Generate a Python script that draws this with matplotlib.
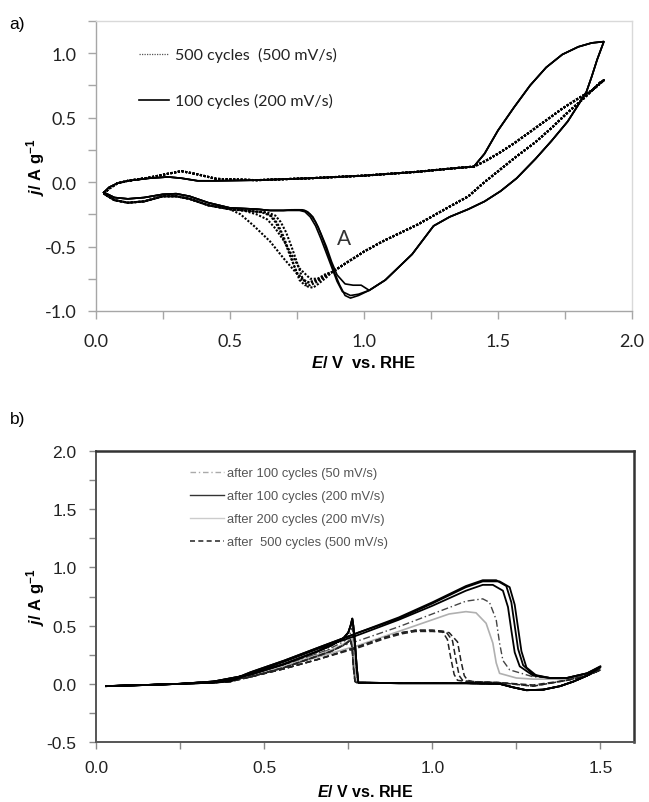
import numpy as np
import matplotlib
matplotlib.use("Agg")
import matplotlib.pyplot as plt
from matplotlib.ticker import MultipleLocator, FormatStrFormatter
from matplotlib.lines import Line2D

plt.rcParams['font.family'] = ['Liberation Sans', 'DejaVu Sans']
plt.rcParams['mathtext.fontset'] = 'custom'
plt.rcParams['mathtext.it'] = 'Liberation Sans:italic:bold'
plt.rcParams['mathtext.rm'] = 'Liberation Sans:bold'
plt.rcParams['mathtext.bf'] = 'Liberation Sans:bold'

# ---------------- panel a data (E / V vs RHE, j / A g-1) ----------------
# anodic sweep, low potential part (shared E grid)
a_fwd_E = [0.03, 0.05, 0.08, 0.12, 0.20, 0.27, 0.32, 0.38, 0.45, 0.60, 0.80, 1.00, 1.20, 1.35, 1.41]
a_fwd_j_solid = [-0.08, -0.04, -0.01, 0.01, 0.03, 0.04, 0.03, 0.01, 0.01, 0.015, 0.03, 0.05, 0.08, 0.11, 0.12]
a_fwd_j_dot = [-0.09, -0.05, -0.01, 0.01, 0.035, 0.065, 0.085, 0.06, 0.025, 0.015, 0.03, 0.05, 0.08, 0.11, 0.12]

# anodic sweep above the kink at 1.41 V
a_hi_E = [1.41, 1.45, 1.50, 1.56, 1.62, 1.68, 1.74, 1.80, 1.85, 1.895]
a_hi_j_solid = [0.12, 0.22, 0.40, 0.58, 0.75, 0.89, 0.99, 1.05, 1.08, 1.09]
a_hi_j_dot = [0.12, 0.16, 0.22, 0.30, 0.39, 0.48, 0.57, 0.65, 0.71, 0.79]

# cathodic sweep from the vertex down to the reduction peak
a_back_E_solid = [1.895, 1.87, 1.85, 1.83, 1.80, 1.76, 1.70, 1.64, 1.57, 1.51, 1.45,
                  1.39, 1.32, 1.26, 1.22, 1.18, 1.14, 1.08, 1.02]
a_back_j_solid = [1.09, 0.95, 0.82, 0.70, 0.60, 0.47, 0.32, 0.18, 0.03, -0.07, -0.15,
                  -0.21, -0.27, -0.34, -0.45, -0.56, -0.64, -0.76, -0.84]
a_back_E_dot = [1.895, 1.88, 1.82, 1.76, 1.70, 1.64, 1.57, 1.51, 1.45, 1.39, 1.32,
                1.26, 1.20, 1.14, 1.07, 1.00, 0.94, 0.88]
a_back_j_dot = [0.79, 0.77, 0.65, 0.54, 0.42, 0.31, 0.20, 0.10, 0.0, -0.11, -0.19,
                -0.26, -0.33, -0.39, -0.46, -0.54, -0.62, -0.70]

# reduction peak "A", one list per recorded cycle
a_peak_E_solid = [
    [0.98, 0.95, 0.93, 0.91, 0.89, 0.87, 0.85, 0.83, 0.81, 0.79, 0.77, 0.74, 0.70],
    [0.98, 0.95, 0.92, 0.90, 0.88, 0.86, 0.84, 0.82, 0.80, 0.78, 0.76, 0.73, 0.70],
    [0.99, 0.96, 0.93, 0.90, 0.88, 0.86, 0.84, 0.82, 0.80, 0.78, 0.76, 0.73, 0.70],
]
a_peak_j_solid = [
    [-0.88, -0.90, -0.88, -0.80, -0.70, -0.58, -0.46, -0.35, -0.27, -0.23, -0.215, -0.215, -0.22],
    [-0.87, -0.88, -0.85, -0.77, -0.66, -0.55, -0.44, -0.34, -0.27, -0.23, -0.22, -0.22, -0.22],
    [-0.80, -0.80, -0.79, -0.72, -0.62, -0.50, -0.40, -0.31, -0.25, -0.22, -0.215, -0.215, -0.22],
]
a_peak_E_dot = [
    [0.86, 0.83, 0.80, 0.78, 0.76, 0.74, 0.72, 0.70, 0.68, 0.66, 0.63, 0.58, 0.50],
    [0.86, 0.83, 0.81, 0.79, 0.77, 0.75, 0.73, 0.71, 0.69, 0.67, 0.64, 0.58, 0.50],
    [0.86, 0.83, 0.80, 0.77, 0.75, 0.73, 0.71, 0.69, 0.67, 0.65, 0.62, 0.58, 0.50],
    [0.86, 0.83, 0.80, 0.76, 0.73, 0.70, 0.67, 0.64, 0.60, 0.55, 0.50],
    [0.86, 0.82, 0.79, 0.75, 0.70, 0.65, 0.59, 0.54, 0.50],
]
a_peak_j_dot = [
    [-0.73, -0.77, -0.80, -0.80, -0.76, -0.65, -0.53, -0.42, -0.33, -0.27, -0.235, -0.225, -0.21],
    [-0.74, -0.79, -0.82, -0.81, -0.74, -0.62, -0.50, -0.39, -0.31, -0.26, -0.235, -0.225, -0.21],
    [-0.72, -0.76, -0.78, -0.76, -0.70, -0.60, -0.49, -0.39, -0.31, -0.26, -0.235, -0.225, -0.21],
    [-0.72, -0.75, -0.75, -0.67, -0.56, -0.45, -0.36, -0.29, -0.25, -0.22, -0.21],
    [-0.71, -0.76, -0.78, -0.71, -0.59, -0.46, -0.34, -0.25, -0.21],
]

# cathodic sweep, low potential part
a_low_E_solid = [0.70, 0.65, 0.60, 0.50, 0.42, 0.35, 0.30, 0.25, 0.18, 0.12, 0.07, 0.03]
a_low_j_solid = [-0.22, -0.22, -0.21, -0.20, -0.16, -0.11, -0.09, -0.095, -0.12, -0.13, -0.12, -0.08]
a_low_E_dot = [0.50, 0.42, 0.35, 0.30, 0.25, 0.18, 0.12, 0.07, 0.03]
a_low_j_dot = [-0.21, -0.18, -0.13, -0.11, -0.11, -0.15, -0.16, -0.14, -0.09]

# ---------------- panel b data ----------------
b_start_E = [0.03, 0.08, 0.15, 0.25, 0.35]
b_start_j = [-0.02, -0.015, -0.01, 0.0, 0.01]

b_fwd_E_solid = [
    [0.40, 0.46, 0.56, 0.66, 0.78, 0.90, 1.00, 1.10, 1.15, 1.19, 1.22, 1.235, 1.245, 1.255, 1.27, 1.30, 1.35, 1.40, 1.46, 1.50],
    [0.40, 0.46, 0.56, 0.66, 0.78, 0.90, 1.00, 1.10, 1.15, 1.20, 1.23, 1.245, 1.255, 1.265, 1.28, 1.31, 1.35, 1.40, 1.46, 1.50],
    [0.40, 0.46, 0.56, 0.66, 0.78, 0.90, 1.00, 1.10, 1.15, 1.18, 1.21, 1.225, 1.235, 1.245, 1.26, 1.30, 1.35, 1.40, 1.46, 1.50],
]
b_fwd_j_solid = [
    [0.03, 0.10, 0.20, 0.31, 0.44, 0.57, 0.70, 0.84, 0.89, 0.89, 0.84, 0.70, 0.50, 0.30, 0.16, 0.08, 0.05, 0.05, 0.09, 0.15],
    [0.03, 0.10, 0.20, 0.31, 0.44, 0.56, 0.69, 0.83, 0.88, 0.88, 0.83, 0.68, 0.48, 0.28, 0.14, 0.07, 0.05, 0.05, 0.09, 0.15],
    [0.02, 0.09, 0.19, 0.30, 0.42, 0.55, 0.67, 0.80, 0.85, 0.85, 0.80, 0.66, 0.46, 0.27, 0.15, 0.07, 0.05, 0.05, 0.09, 0.14],
]
b_fwd_E_dashdot = [0.40, 0.46, 0.56, 0.66, 0.78, 0.90, 1.00, 1.10, 1.15, 1.17, 1.19, 1.20, 1.21, 1.23, 1.30, 1.40, 1.46, 1.50]
b_fwd_j_dashdot = [0.02, 0.08, 0.17, 0.26, 0.37, 0.49, 0.60, 0.71, 0.73, 0.70, 0.55, 0.35, 0.20, 0.12, 0.06, 0.04, 0.08, 0.13]
b_fwd_E_gray = [0.40, 0.46, 0.56, 0.66, 0.78, 0.90, 1.00, 1.05, 1.10, 1.13, 1.16, 1.18, 1.19, 1.20, 1.25, 1.30, 1.40, 1.46, 1.50]
b_fwd_j_gray = [0.02, 0.07, 0.15, 0.23, 0.33, 0.45, 0.55, 0.60, 0.62, 0.61, 0.52, 0.35, 0.18, 0.09, 0.05, 0.04, 0.04, 0.08, 0.12]
b_fwd_E_dashed = [
    [0.40, 0.46, 0.56, 0.66, 0.78, 0.86, 0.91, 0.95, 1.00, 1.03, 1.045, 1.055, 1.065, 1.075, 1.10, 1.20, 1.30, 1.40, 1.46, 1.50],
    [0.40, 0.46, 0.56, 0.66, 0.78, 0.86, 0.91, 0.95, 1.00, 1.04, 1.06, 1.07, 1.08, 1.09, 1.11, 1.20, 1.30, 1.40, 1.46, 1.50],
    [0.40, 0.46, 0.56, 0.66, 0.78, 0.86, 0.91, 0.95, 1.00, 1.05, 1.075, 1.085, 1.095, 1.105, 1.12, 1.20, 1.30, 1.40, 1.46, 1.50],
]
b_fwd_j_dashed = [
    [0.02, 0.06, 0.13, 0.21, 0.32, 0.40, 0.44, 0.46, 0.46, 0.45, 0.38, 0.22, 0.08, 0.03, 0.02, 0.01, -0.01, 0.03, 0.07, 0.12],
    [0.02, 0.06, 0.13, 0.21, 0.32, 0.40, 0.44, 0.46, 0.46, 0.45, 0.37, 0.21, 0.07, 0.03, 0.02, 0.01, -0.02, 0.03, 0.07, 0.12],
    [0.02, 0.06, 0.13, 0.21, 0.31, 0.39, 0.43, 0.45, 0.45, 0.44, 0.36, 0.20, 0.07, 0.03, 0.02, 0.01, -0.02, 0.03, 0.07, 0.12],
]

b_rev_E = [1.50, 1.46, 1.42, 1.38, 1.33, 1.28, 1.24, 1.20, 1.10, 1.00, 0.90, 0.80]
b_rev_j = [0.15, 0.07, 0.02, -0.02, -0.05, -0.055, -0.03, 0.0, 0.005, 0.005, 0.005, 0.01]
b_spike_E = [0.78, 0.775, 0.77, 0.765, 0.762, 0.757, 0.75, 0.735, 0.70, 0.66, 0.56, 0.46, 0.35, 0.25, 0.15, 0.03]
b_spike_j_solid = [0.01, 0.15, 0.35, 0.50, 0.56, 0.50, 0.44, 0.39, 0.33, 0.28, 0.17, 0.08, 0.02, 0.0, -0.01, -0.02]
b_spike_j_dashdot = [0.01, 0.02, 0.25, 0.42, 0.48, 0.44, 0.40, 0.36, 0.31, 0.26, 0.16, 0.07, 0.02, 0.0, -0.01, -0.02]
b_spike_j_gray = [0.01, 0.01, 0.10, 0.32, 0.42, 0.40, 0.37, 0.34, 0.29, 0.25, 0.15, 0.07, 0.02, 0.0, -0.01, -0.02]
b_spike_j_dashed = [0.01, 0.01, 0.02, 0.15, 0.30, 0.38, 0.36, 0.33, 0.28, 0.24, 0.14, 0.06, 0.02, 0.0, -0.01, -0.02]

legend_a = ['500 cycles  (500 mV/s)', '100 cycles (200 mV/s)']
legend_b = ['after 100 cycles (50 mV/s)', 'after 100 cycles (200 mV/s)',
            'after 200 cycles (200 mV/s)', 'after  500 cycles (500 mV/s)']

fig = plt.figure(figsize=(6.49, 8.03), dpi=100)

# ================= panel a =================
ax1 = fig.add_axes([0.1475, 0.6115, 0.8263, 0.3611])
dot_style = dict(color='black', lw=1.5, linestyle=(0, (1, 0.8)))
sol_style = dict(color='black', lw=1.2)

for pe, pj in zip(a_peak_E_dot, a_peak_j_dot):
    E = a_fwd_E + a_hi_E[1:] + a_back_E_dot + pe + a_low_E_dot[1:]
    j = a_fwd_j_dot + a_hi_j_dot[1:] + a_back_j_dot + pj + a_low_j_dot[1:]
    ax1.plot(E, j, **dot_style)
for pe, pj in zip(a_peak_E_solid, a_peak_j_solid):
    E = a_fwd_E + a_hi_E[1:] + a_back_E_solid + pe + a_low_E_solid[1:]
    j = a_fwd_j_solid + a_hi_j_solid[1:] + a_back_j_solid + pj + a_low_j_solid[1:]
    ax1.plot(E, j, **sol_style)

ax1.set_xlim(0, 2.0)
ax1.set_ylim(-1.0, 1.25)
ax1.xaxis.set_major_locator(MultipleLocator(0.5))
ax1.xaxis.set_minor_locator(MultipleLocator(0.25))
ax1.yaxis.set_major_locator(MultipleLocator(0.5))
ax1.yaxis.set_minor_locator(MultipleLocator(0.25))
ax1.xaxis.set_major_formatter(FormatStrFormatter('%.1f'))
ax1.yaxis.set_major_formatter(FormatStrFormatter('%.1f'))
for s in ['top', 'right']:
    ax1.spines[s].set_color('#d9d9d9')
for s in ['left', 'bottom']:
    ax1.spines[s].set_color('#a6a6a6')
for s in ax1.spines.values():
    s.set_linewidth(1.0)
ax1.tick_params(which='both', direction='out', length=6, width=1, color='#a6a6a6')
ax1.tick_params(axis='x', which='major', pad=10, labelsize=13, labelcolor='#222222', labelfontfamily='Lato')
ax1.tick_params(axis='y', which='major', pad=8, labelsize=13, labelcolor='#222222', labelfontfamily='Lato')

ax1.set_xlabel(r'$\mathit{E}$/ V  vs. RHE', fontsize=12, fontweight='bold')
ax1.xaxis.set_label_coords(0.5, -0.148)
ax1.set_ylabel(r'$\mathit{j}$/ A g$^{-1}$', fontsize=12, fontweight='bold')
ax1.yaxis.set_label_coords(-0.09, 0.5)

ax1.text(0.925, -0.43, 'A', fontsize=15, family='Lato', color='#333333', ha='center', va='center')

handles_a = [Line2D([], [], color='#555555', lw=0.9, linestyle=(0, (1, 1))),
             Line2D([], [], color='black', lw=1.2)]
leg_a = ax1.legend(handles_a, legend_a, loc='upper left', bbox_to_anchor=(0.08, 0.91),
                   frameon=False, prop={'family': 'Lato', 'size': 11.5}, handlelength=1.9,
                   handletextpad=0.35, labelspacing=1.95, borderpad=0, borderaxespad=0)
for t in leg_a.get_texts():
    t.set_color('#222222')

fig.text(0.015, 0.970, 'a)', fontsize=12.5, ha='left', va='center')

# ================= panel b =================
ax2 = fig.add_axes([0.148, 0.0747, 0.829, 0.3624])

st_dashdot = dict(color='#444444', lw=1.0, linestyle=(0, (5, 2, 1, 2)))
st_solid = dict(color='black', lw=1.3)
st_gray = dict(color='#b0b0b0', lw=1.2)
st_dashed = dict(color='#222222', lw=1.1, linestyle=(0, (4, 2)))

E = b_start_E + b_fwd_E_dashdot + b_rev_E[1:] + b_spike_E
j = b_start_j + b_fwd_j_dashdot + b_rev_j[1:] + b_spike_j_dashdot
ax2.plot(E, j, **st_dashdot)
E = b_start_E + b_fwd_E_gray + b_rev_E[1:] + b_spike_E
j = b_start_j + b_fwd_j_gray + b_rev_j[1:] + b_spike_j_gray
ax2.plot(E, j, **st_gray)
for fe, fj in zip(b_fwd_E_dashed, b_fwd_j_dashed):
    ax2.plot(b_start_E + fe + b_rev_E[1:] + b_spike_E,
             b_start_j + fj + b_rev_j[1:] + b_spike_j_dashed, **st_dashed)
for fe, fj in zip(b_fwd_E_solid, b_fwd_j_solid):
    ax2.plot(b_start_E + fe + b_rev_E[1:] + b_spike_E,
             b_start_j + fj + b_rev_j[1:] + b_spike_j_solid, **st_solid)

ax2.set_xlim(0, 1.6)
ax2.set_ylim(-0.5, 2.0)
ax2.xaxis.set_major_locator(MultipleLocator(0.5))
ax2.xaxis.set_minor_locator(MultipleLocator(0.25))
ax2.yaxis.set_major_locator(MultipleLocator(0.5))
ax2.yaxis.set_minor_locator(MultipleLocator(0.25))
ax2.xaxis.set_major_formatter(FormatStrFormatter('%.1f'))
ax2.yaxis.set_major_formatter(FormatStrFormatter('%.1f'))
for s in ['top', 'right']:
    ax2.spines[s].set_color('#333333')
    ax2.spines[s].set_linewidth(1.8)
for s in ['left', 'bottom']:
    ax2.spines[s].set_color('#555555')
    ax2.spines[s].set_linewidth(1.4)
ax2.tick_params(which='both', direction='out', length=5, width=1, color='#888888')
ax2.tick_params(axis='x', which='major', pad=8, labelsize=12.5, labelcolor='#222222')
ax2.tick_params(axis='y', which='major', pad=9, labelsize=12.5, labelcolor='#222222')

ax2.set_xlabel(r'$\mathit{E}$/ V vs. RHE', fontsize=11.5, fontweight='bold')
ax2.xaxis.set_label_coords(0.5, -0.14)
ax2.set_ylabel(r'$\mathit{j}$/ A g$^{-1}$', fontsize=12, fontweight='bold')
ax2.yaxis.set_label_coords(-0.092, 0.5)

handles_b = [Line2D([], [], color='#aaaaaa', lw=1.0, linestyle=(0, (4, 2, 1, 2))),
             Line2D([], [], color='#333333', lw=1.0),
             Line2D([], [], color='#cccccc', lw=1.0),
             Line2D([], [], color='#333333', lw=1.2, linestyle=(0, (3, 2)))]
leg_b = ax2.legend(handles_b, legend_b, loc='upper left', bbox_to_anchor=(0.175, 0.945),
                   frameon=False, prop={'family': 'Liberation Sans', 'size': 9.3},
                   handlelength=2.6, handletextpad=0.25, labelspacing=0.85, borderpad=0, borderaxespad=0)
for t in leg_b.get_texts():
    t.set_color('#555555')

fig.text(0.015, 0.478, 'b)', fontsize=12.5, ha='left', va='center')

fig.savefig('out.png', dpi=100)
